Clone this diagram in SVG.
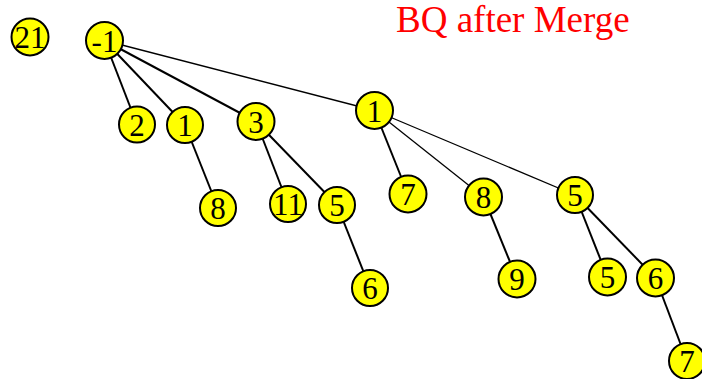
<svg xmlns="http://www.w3.org/2000/svg" width="702" height="379" viewBox="0 0 702 379">
<style>
.n circle{fill:#ffff00;stroke:#000;stroke-width:2}
.n text{font-family:"Liberation Serif","Times New Roman",serif;font-size:31px;fill:#000;text-anchor:middle}
.e line{stroke:#000;stroke-width:2}
.e line.t{stroke-width:1.3}
.title{font-family:"Liberation Serif","Times New Roman",serif;font-size:37px;fill:#ff0000}
</style>
<rect width="702" height="379" fill="#fff"/>
<text class="title" x="396" y="32">BQ after Merge</text>
<g id="edges" class="e">
<line x1="104.5" y1="40.5" x2="137" y2="124.5"/>
<line x1="104.5" y1="40.5" x2="185" y2="125"/>
<line x1="104.5" y1="40.5" x2="256" y2="121.5"/>
<line class="t" x1="104.5" y1="40.5" x2="374.5" y2="110.5"/>
<line x1="185" y1="125" x2="218" y2="208"/>
<line x1="256" y1="121.5" x2="288" y2="204"/>
<line x1="256" y1="121.5" x2="337" y2="205"/>
<line x1="337" y1="205" x2="370" y2="288"/>
<line x1="374.5" y1="110.5" x2="408" y2="194"/>
<line class="t" x1="374.5" y1="110.5" x2="483.5" y2="197"/>
<line class="t" x1="374.5" y1="110.5" x2="575" y2="195"/>
<line x1="483.5" y1="197" x2="517" y2="279"/>
<line x1="575" y1="195" x2="607.5" y2="277"/>
<line x1="575" y1="195" x2="655.5" y2="278"/>
<line x1="655.5" y1="278" x2="687" y2="361"/>
</g>
<g id="n21" class="n"><circle cx="30" cy="37" r="18.5"/><text x="30" y="48">21</text></g>
<g id="nm1" class="n"><circle cx="104.5" cy="40.5" r="18.5"/><text x="104.5" y="51.5">-1</text></g>
<g id="n2" class="n"><circle cx="137" cy="124.5" r="18"/><text x="137" y="135.5">2</text></g>
<g id="n1a" class="n"><circle cx="185" cy="125" r="18"/><text x="185" y="136">1</text></g>
<g id="n3" class="n"><circle cx="256" cy="121.5" r="18.5"/><text x="256" y="132.5">3</text></g>
<g id="n1b" class="n"><circle cx="374.5" cy="110.5" r="18.5"/><text x="374.5" y="121.5">1</text></g>
<g id="n8a" class="n"><circle cx="218" cy="208" r="18"/><text x="218" y="219">8</text></g>
<g id="n11" class="n"><circle cx="288" cy="204" r="18"/><text x="288" y="215">11</text></g>
<g id="n5a" class="n"><circle cx="337" cy="205" r="18"/><text x="337" y="216">5</text></g>
<g id="n6a" class="n"><circle cx="370" cy="288" r="18"/><text x="370" y="299">6</text></g>
<g id="n7a" class="n"><circle cx="408" cy="194" r="18.5"/><text x="408" y="205">7</text></g>
<g id="n8b" class="n"><circle cx="483.5" cy="197" r="18.5"/><text x="483.5" y="208">8</text></g>
<g id="n5b" class="n"><circle cx="575" cy="195" r="18"/><text x="575" y="206">5</text></g>
<g id="n9" class="n"><circle cx="517" cy="279" r="18.5"/><text x="517" y="290">9</text></g>
<g id="n5c" class="n"><circle cx="607.5" cy="277" r="18.5"/><text x="607.5" y="288">5</text></g>
<g id="n6b" class="n"><circle cx="655.5" cy="278" r="18.5"/><text x="655.5" y="289">6</text></g>
<g id="n7b" class="n"><circle cx="687" cy="361" r="18"/><text x="687" y="372">7</text></g>
</svg>
